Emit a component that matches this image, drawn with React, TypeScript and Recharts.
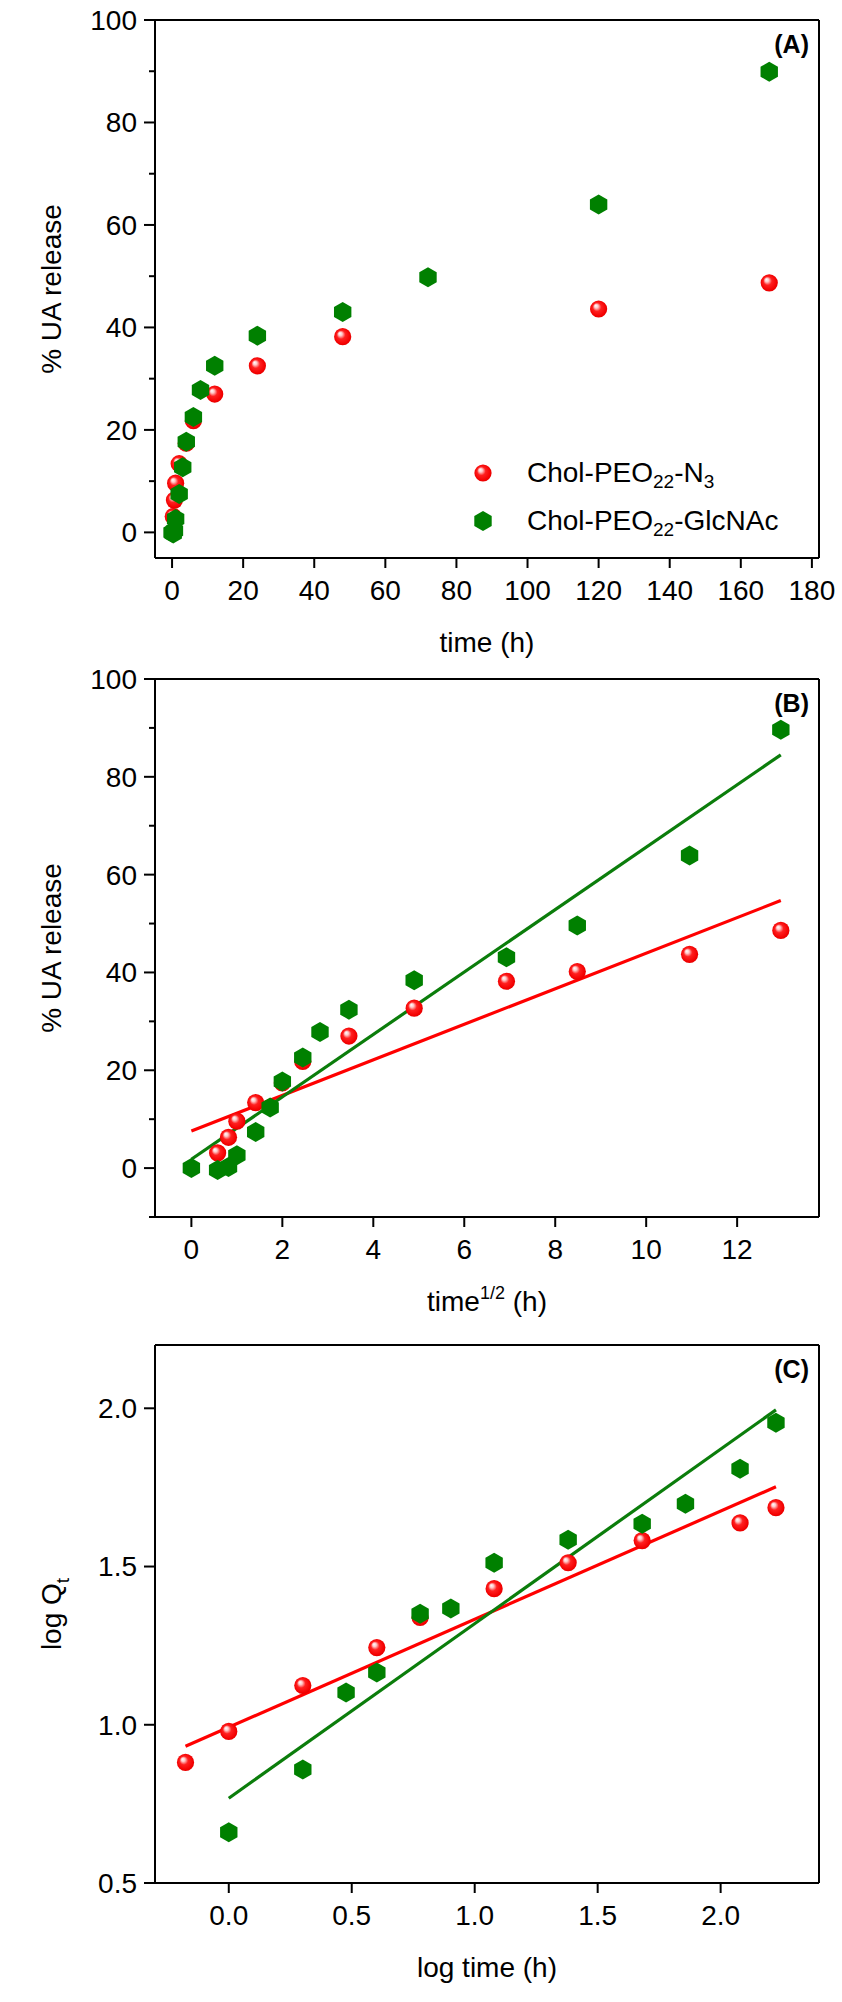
import React from 'react';
import { ScatterChart, Scatter, XAxis, YAxis, Legend, ReferenceLine, Label } from 'recharts';

const FONT = '"Liberation Sans", Arial, Helvetica, sans-serif';
const RED = '#ff0000';
const GREEN = '#008000';
const LINE_GREEN = '#0b7d0b';

const NAME_N3 = 'Chol-PEO22-N3';
const NAME_GLC = 'Chol-PEO22-GlcNAc';
const LEGEND_ORDER = [NAME_N3, NAME_GLC];

// ---- Panel A : % UA release vs time (h)
const timeRedA = [0.33, 0.67, 1, 2, 4, 6, 12, 24, 48, 120, 168];
const releaseRedA = [3.1, 6.3, 9.6, 13.4, 17.4, 21.8, 27.0, 32.5, 38.2, 43.6, 48.7];
const timeGreenA = [0, 0.33, 0.67, 1, 2, 3, 4, 6, 8, 12, 24, 48, 72, 120, 168];
const releaseGreenA = [0, -0.2, 0.3, 2.6, 7.5, 12.7, 17.7, 22.5, 27.8, 32.5, 38.4, 43.0, 49.8, 64.0, 89.9];
const xTicksA = [0, 20, 40, 60, 80, 100, 120, 140, 160, 180];
const yTicksA = [0, 10, 20, 30, 40, 50, 60, 70, 80, 90, 100];
const yMajorA = [0, 20, 40, 60, 80, 100];

// ---- Panel B : % UA release vs time^1/2
const sqrtTimeRedB = [0.577, 0.816, 1, 1.414, 2, 2.449, 3.464, 4.899, 6.928, 8.485, 10.954, 12.961];
const releaseRedB = [3.1, 6.3, 9.6, 13.4, 17.4, 21.8, 27.0, 32.7, 38.2, 40.2, 43.7, 48.6];
const sqrtTimeGreenB = [0, 0.577, 0.816, 1, 1.414, 1.732, 2, 2.449, 2.828, 3.464, 4.899, 6.928, 8.485, 10.954, 12.961];
const releaseGreenB = [0, -0.4, 0.2, 2.6, 7.4, 12.4, 17.7, 22.6, 27.8, 32.4, 38.4, 43.1, 49.6, 63.9, 89.6];
const fitXRedB = [0, 12.96];
const fitYRedB = [7.6, 54.7];
const fitXGreenB = [0, 12.96];
const fitYGreenB = [1.8, 84.5];
const xTicksB = [0, 2, 4, 6, 8, 10, 12];
const yTicksB = [-10, 0, 10, 20, 30, 40, 50, 60, 70, 80, 90, 100];
const yMajorB = [0, 20, 40, 60, 80, 100];

// ---- Panel C : log Qt vs log time
const logTimeRedC = [-0.176, 0, 0.301, 0.602, 0.778, 1.079, 1.380, 1.681, 2.079, 2.225];
const logQRedC = [0.881, 0.979, 1.124, 1.244, 1.339, 1.430, 1.512, 1.582, 1.638, 1.686];
const logTimeGreenC = [0, 0.301, 0.477, 0.602, 0.778, 0.903, 1.079, 1.380, 1.681, 1.857, 2.079, 2.225];
const logQGreenC = [0.66, 0.859, 1.102, 1.165, 1.351, 1.367, 1.512, 1.585, 1.635, 1.698, 1.809, 1.954];
const fitXRedC = [-0.176, 2.225];
const fitYRedC = [0.932, 1.752];
const fitXGreenC = [0, 2.225];
const fitYGreenC = [0.768, 1.995];
const xTicksC = [0, 0.5, 1, 1.5, 2];
const yTicksC = [0.5, 1, 1.5, 2];
const yMajorC = [0.5, 1, 1.5, 2];

type Pt = { x: number; y: number };
const zip = (xs: number[], ys: number[]): Pt[] => xs.map((x, i) => ({ x, y: ys[i] }));

// layout (chart-local)
const PLOT_LEFT = 155;
const PLOT_RIGHT = 819;
const PLOT_TOP = 20;
const PLOT_H = 538;
const Y_AXIS_W = 100;
const X_AXIS_H = 60;
const FS = 28;

function BallIcon({ cx, cy, id }: { cx: number; cy: number; id: string }) {
  return (
    <g>
      <defs>
        <radialGradient id={id} cx="0.5" cy="0.5" r="0.55" fx="0.33" fy="0.3">
          <stop offset="0" stopColor="#ffffff" />
          <stop offset="0.2" stopColor="#ffc8c8" />
          <stop offset="0.45" stopColor="#ff2020" />
          <stop offset="0.85" stopColor="#f20000" />
          <stop offset="1" stopColor="#d80000" />
        </radialGradient>
      </defs>
      <circle cx={cx} cy={cy} r={8.6} fill={`url(#${id})`} />
    </g>
  );
}

function HexIcon({ cx, cy }: { cx: number; cy: number }) {
  const r = 10;
  const w = 8.7;
  const pts = [
    [cx, cy - r],
    [cx + w, cy - r / 2],
    [cx + w, cy + r / 2],
    [cx, cy + r],
    [cx - w, cy + r / 2],
    [cx - w, cy - r / 2],
  ]
    .map((p) => p.join(','))
    .join(' ');
  return <polygon points={pts} fill={GREEN} />;
}

const Ball = (props: any) => {
  const { cx, cy } = props;
  if (cx == null || cy == null) return <g />;
  const id = `ball_${Math.round(cx)}_${Math.round(cy)}`;
  return <BallIcon cx={cx} cy={cy} id={id} />;
};

const Hex = (props: any) => {
  const { cx, cy } = props;
  if (cx == null || cy == null) return <g />;
  return <HexIcon cx={cx} cy={cy} />;
};

const NoShape = () => <g />;

const makeYTick = (majors: number[], fmt: (v: number) => string) => (props: any) => {
  const { x, y, payload } = props;
  const v = payload.value;
  const major = majors.some((m) => Math.abs(m - v) < 1e-9);
  return (
    <g>
      <line x1={x - (major ? 11 : 6)} x2={x} y1={y} y2={y} stroke="#000" strokeWidth={2} />
      {major && (
        <text x={x - 18} y={y} dy="0.355em" textAnchor="end" fontSize={FS} fontFamily={FONT} fill="#000">
          {fmt(v)}
        </text>
      )}
    </g>
  );
};

const makeXTick = (fmt: (v: number) => string) => (props: any) => {
  const { x, y, payload } = props;
  return (
    <g>
      <line x1={x} x2={x} y1={y} y2={y + 10} stroke="#000" strokeWidth={2} />
      <text x={x} y={y + 22} dy="0.71em" textAnchor="middle" fontSize={FS} fontFamily={FONT} fill="#000">
        {fmt(payload.value)}
      </text>
    </g>
  );
};

const SUB = { fontSize: 19, verticalAlign: '-0.3em', lineHeight: 0 } as const;

const legendLabel = (name: string) => {
  if (name === NAME_N3)
    return (
      <>
        Chol-PEO<sub style={SUB}>22</sub>-N<sub style={SUB}>3</sub>
      </>
    );
  return (
    <>
      Chol-PEO<sub style={SUB}>22</sub>-GlcNAc
    </>
  );
};

const renderLegend = (props: any) => {
  const payload = (props.payload || [])
    .filter((p: any) => LEGEND_ORDER.includes(p.value))
    .sort((a: any, b: any) => LEGEND_ORDER.indexOf(a.value) - LEGEND_ORDER.indexOf(b.value));
  return (
    <div style={{ fontFamily: FONT, fontSize: FS, color: '#000', lineHeight: 1 }}>
      {payload.map((p: any) => (
        <div key={p.value} style={{ display: 'flex', alignItems: 'center', height: 48 }}>
          <svg width={26} height={26} style={{ marginRight: 31, flex: 'none' }}>
            {p.value === NAME_N3 ? <BallIcon cx={13} cy={13} id="legend_ball" /> : <HexIcon cx={13} cy={13} />}
          </svg>
          <span style={{ whiteSpace: 'nowrap' }}>{legendLabel(p.value)}</span>
        </div>
      ))}
    </div>
  );
};

interface PanelProps {
  height: number;
  xDomain: [number, number];
  yDomain: [number, number];
  xTicks: number[];
  yTicks: number[];
  yMajors: number[];
  xFmt: (v: number) => string;
  yFmt: (v: number) => string;
  red: Pt[];
  green: Pt[];
  fitRed?: Pt[];
  fitGreen?: Pt[];
  xTitle: React.ReactNode;
  yTitle: React.ReactNode;
  tag: string;
  legend?: boolean;
}

function Panel(p: PanelProps) {
  const bottomMargin = p.height - PLOT_TOP - PLOT_H - X_AXIS_H;
  const cy = PLOT_TOP + PLOT_H / 2;
  return (
    <ScatterChart
      width={842}
      height={p.height}
      margin={{ top: PLOT_TOP, right: 842 - PLOT_RIGHT, bottom: bottomMargin, left: PLOT_LEFT - Y_AXIS_W }}
      style={{ fontFamily: FONT }}
    >
      <XAxis
        xAxisId="x"
        type="number"
        dataKey="x"
        domain={p.xDomain}
        allowDataOverflow
        ticks={p.xTicks}
        interval={0}
        tickLine={false}
        tickSize={0}
        tickMargin={0}
        tick={makeXTick(p.xFmt)}
        axisLine={{ stroke: '#000', strokeWidth: 2 }}
        height={X_AXIS_H}
      >
        <Label
          content={() => (
            <text
              x={(PLOT_LEFT + PLOT_RIGHT) / 2}
              y={PLOT_TOP + PLOT_H + 94}
              textAnchor="middle"
              fontSize={FS}
              fontFamily={FONT}
              fill="#000"
            >
              {p.xTitle}
            </text>
          )}
        />
      </XAxis>
      <YAxis
        yAxisId="y"
        type="number"
        dataKey="y"
        domain={p.yDomain}
        allowDataOverflow
        ticks={p.yTicks}
        interval={0}
        tickLine={false}
        tickSize={0}
        tickMargin={0}
        tick={makeYTick(p.yMajors, p.yFmt)}
        axisLine={{ stroke: '#000', strokeWidth: 2 }}
        width={Y_AXIS_W}
      >
        <Label
          content={() => (
            <g>
              <text
                x={51}
                y={cy}
                dy="0.35em"
                transform={`rotate(-90 51 ${cy})`}
                textAnchor="middle"
                fontSize={FS}
                fontFamily={FONT}
                fill="#000"
              >
                {p.yTitle}
              </text>
              <text
                x={PLOT_RIGHT - 10}
                y={PLOT_TOP + 33}
                textAnchor="end"
                fontSize={25}
                fontWeight="bold"
                fontFamily={FONT}
                fill="#000"
              >
                {p.tag}
              </text>
            </g>
          )}
        />
      </YAxis>
      <ReferenceLine xAxisId="x" yAxisId="y" y={p.yDomain[1]} stroke="#000" strokeWidth={2} />
      <ReferenceLine xAxisId="x" yAxisId="y" x={p.xDomain[1]} stroke="#000" strokeWidth={2} />
      {p.fitRed && (
        <Scatter
          xAxisId="x"
          yAxisId="y"
          data={p.fitRed}
          fill={RED}
          line={{ stroke: RED, strokeWidth: 3.2 }}
          lineType="joint"
          shape={NoShape}
          legendType="none"
          isAnimationActive={false}
        />
      )}
      {p.fitGreen && (
        <Scatter
          xAxisId="x"
          yAxisId="y"
          data={p.fitGreen}
          fill={LINE_GREEN}
          line={{ stroke: LINE_GREEN, strokeWidth: 3.2 }}
          lineType="joint"
          shape={NoShape}
          legendType="none"
          isAnimationActive={false}
        />
      )}
      <Scatter
        name={NAME_N3}
        xAxisId="x"
        yAxisId="y"
        data={p.red}
        fill={RED}
        shape={Ball}
        isAnimationActive={false}
      />
      <Scatter
        name={NAME_GLC}
        xAxisId="x"
        yAxisId="y"
        data={p.green}
        fill={GREEN}
        shape={Hex}
        isAnimationActive={false}
      />
      {p.legend && (
        <Legend
          layout="vertical"
          align="center"
          verticalAlign="middle"
          wrapperStyle={{ position: 'absolute', left: 470, top: 449, width: 340, height: 96 }}
          content={renderLegend}
        />
      )}
    </ScatterChart>
  );
}

const intFmt = (v: number) => String(v);
const oneDec = (v: number) => v.toFixed(1);

export default function App() {
  return (
    <div style={{ position: 'absolute', left: 0, top: 0, width: 842, height: 2002, background: '#fff' }}>
      <div style={{ position: 'absolute', left: 0, top: 0 }}>
        <Panel
          height={659}
          xDomain={[-4.8, 182]}
          yDomain={[-5, 100]}
          xTicks={xTicksA}
          yTicks={yTicksA}
          yMajors={yMajorA}
          xFmt={intFmt}
          yFmt={intFmt}
          red={zip(timeRedA, releaseRedA)}
          green={zip(timeGreenA, releaseGreenA)}
          xTitle="time (h)"
          yTitle="% UA release"
          tag="(A)"
          legend
        />
      </div>
      <div style={{ position: 'absolute', left: 0, top: 659 }}>
        <Panel
          height={666}
          xDomain={[-0.8, 13.8]}
          yDomain={[-10, 100]}
          xTicks={xTicksB}
          yTicks={yTicksB}
          yMajors={yMajorB}
          xFmt={intFmt}
          yFmt={intFmt}
          red={zip(sqrtTimeRedB, releaseRedB)}
          green={zip(sqrtTimeGreenB, releaseGreenB)}
          fitRed={zip(fitXRedB, fitYRedB)}
          fitGreen={zip(fitXGreenB, fitYGreenB)}
          xTitle={
            <>
              <tspan>time</tspan>
              <tspan dy={-12} fontSize={18}>1/2</tspan>
              <tspan dy={12}> (h)</tspan>
            </>
          }
          yTitle="% UA release"
          tag="(B)"
        />
      </div>
      <div style={{ position: 'absolute', left: 0, top: 1325 }}>
        <Panel
          height={677}
          xDomain={[-0.3, 2.4]}
          yDomain={[0.5, 2.2]}
          xTicks={xTicksC}
          yTicks={yTicksC}
          yMajors={yMajorC}
          xFmt={oneDec}
          yFmt={oneDec}
          red={zip(logTimeRedC, logQRedC)}
          green={zip(logTimeGreenC, logQGreenC)}
          fitRed={zip(fitXRedC, fitYRedC)}
          fitGreen={zip(fitXGreenC, fitYGreenC)}
          xTitle="log time (h)"
          yTitle={
            <>
              <tspan>log Q</tspan>
              <tspan dy={8} fontSize={19}>t</tspan>
            </>
          }
          tag="(C)"
        />
      </div>
    </div>
  );
}
